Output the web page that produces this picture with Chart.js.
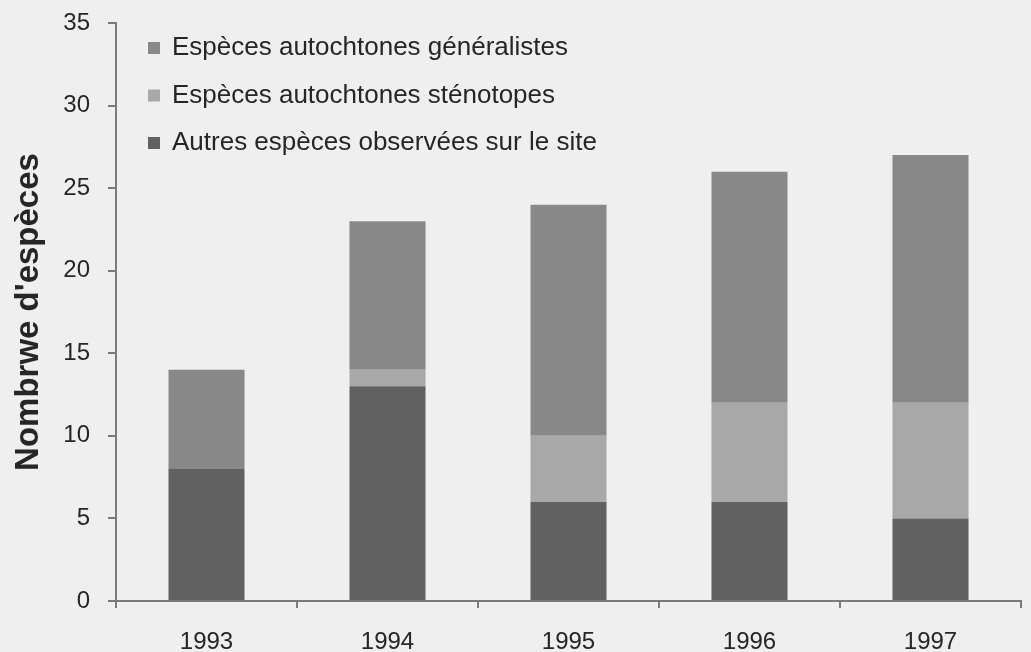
<!DOCTYPE html>
<html>
<head>
<meta charset="utf-8">
<script src="https://cdn.jsdelivr.net/npm/chart.js@4"></script>
<style>
  html, body { margin: 0; padding: 0; background: #efefef; }
  #wrap { width: 1031px; height: 652px; }
</style>
</head>
<body>
<div id="wrap"><canvas id="speciesChart" width="1031" height="652"></canvas></div>
<script>
const years = ['1993', '1994', '1995', '1996', '1997'];
const autres = [8, 13, 6, 6, 5];
const stenotopes = [0, 1, 4, 6, 7];
const generalistes = [6, 9, 14, 14, 15];

const darkGrey = '#616161';
const lightGrey = '#a8a8a8';
const midGrey = '#888888';
const axisColor = '#7a7a7a';
const textColor = '#262626';
const fontFamily = '"Liberation Sans", Arial, sans-serif';

// legend drawn inside the plot, top-left, from the chart's own datasets
const innerLegend = {
  id: 'innerLegend',
  afterDraw(chart) {
    const ctx = chart.ctx;
    const area = chart.chartArea;
    const sets = chart.data.datasets.slice().reverse();
    ctx.save();
    ctx.font = '26px ' + fontFamily;
    ctx.textBaseline = 'middle';
    sets.forEach((ds, i) => {
      const y = area.top + 25 + i * 47.5;
      ctx.fillStyle = ds.backgroundColor;
      ctx.fillRect(area.left + 32, y - 6, 12, 12);
      ctx.fillStyle = textColor;
      ctx.fillText(ds.label, area.left + 56, y);
    });
    ctx.restore();
  }
};

new Chart(document.getElementById('speciesChart'), {
  type: 'bar',
  data: {
    labels: years,
    datasets: [
      { label: 'Autres espèces observées sur le site', data: autres, backgroundColor: darkGrey },
      { label: 'Espèces autochtones sténotopes', data: stenotopes, backgroundColor: lightGrey },
      { label: 'Espèces autochtones généralistes', data: generalistes, backgroundColor: midGrey }
    ]
  },
  options: {
    responsive: false,
    animation: false,
    layout: { padding: { top: 23, right: 10, left: 0, bottom: 0 } },
    datasets: { bar: { barPercentage: 0.42, categoryPercentage: 1 } },
    plugins: {
      legend: { display: false },
      tooltip: { enabled: false }
    },
    scales: {
      x: {
        stacked: true,
        border: { color: axisColor, width: 2 },
        grid: { display: true, drawOnChartArea: false, drawTicks: true, tickLength: 7, color: axisColor, lineWidth: 2 },
        ticks: { color: textColor, font: { size: 24, family: fontFamily }, padding: 20 },
        afterFit(scale) { scale.height = 51; }
      },
      y: {
        stacked: true,
        min: 0,
        max: 35,
        border: { color: axisColor, width: 2 },
        grid: { display: true, drawOnChartArea: false, drawTicks: true, tickLength: 8, color: axisColor, lineWidth: 2 },
        ticks: { stepSize: 5, color: textColor, font: { size: 24, family: fontFamily }, padding: 18 },
        title: {
          display: true,
          text: "Nombrwe d'espèces",
          color: textColor,
          font: { size: 33, weight: 'bold', family: fontFamily },
          padding: { top: 9, bottom: 0 }
        },
        afterFit(scale) {
          scale.width = 116;
          scale.paddingTop = 0;
          scale.paddingBottom = 0;
        }
      }
    }
  },
  plugins: [innerLegend]
});
</script>
</body>
</html>
